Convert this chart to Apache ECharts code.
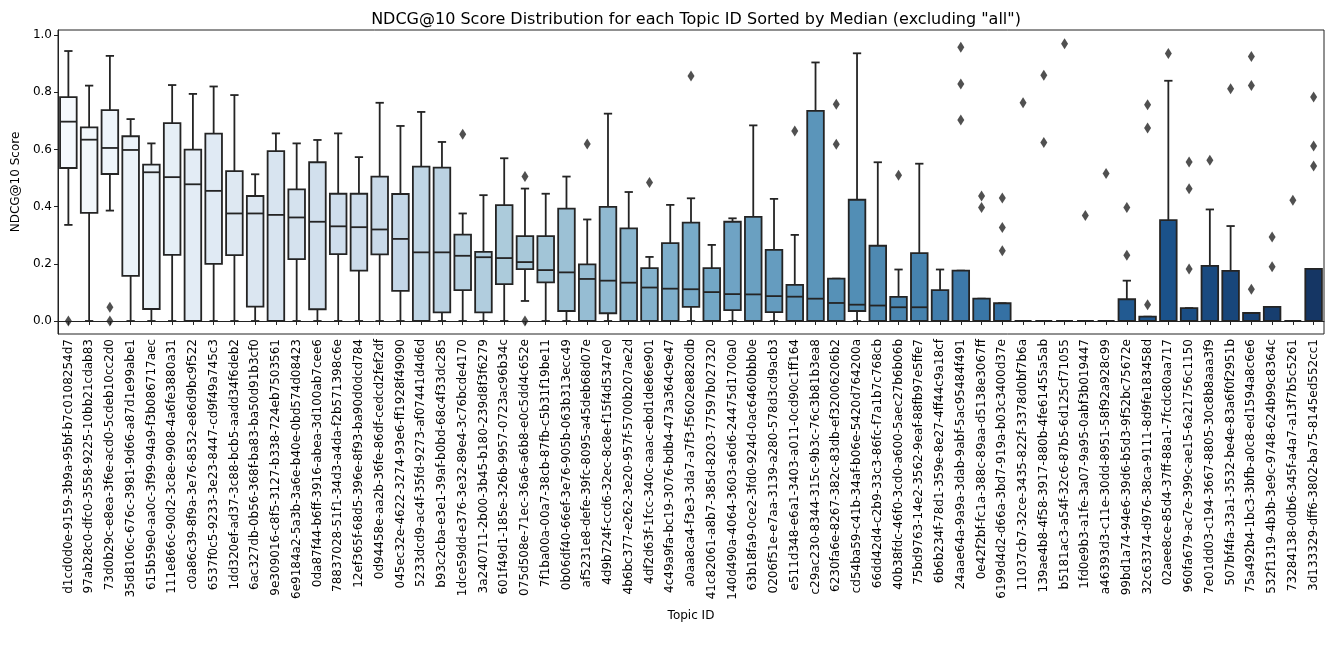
<!DOCTYPE html>
<html>
<head>
<meta charset="utf-8">
<script src="https://cdn.jsdelivr.net/npm/echarts@6/dist/echarts.min.js"></script>
<style>
html,body{margin:0;padding:0;background:#fff;}
#chart{width:1325px;height:654px;}
</style>
</head>
<body>
<div id="chart"></div>
<script>
const categories = [
"d1cd0d0e-9159-3b9a-95bf-b7c0108254d7","97ab28c0-dfc0-3558-9225-10bb21cdab83","73d0b29c-e8ea-3f6e-acd0-5cdeb10cc2d0",
"35d8106c-676c-3981-9d66-a87d1e99abe1","615b59e0-aa0c-3f99-94a9-f3b086717aec","111e866c-90d2-3c8e-9908-4a6fe3880a31",
"c0a86c39-8f9a-3e76-8532-e86d9bc9f522","6537f0c5-9233-3e23-8447-cd9f49a745c3","1dd320ef-ad37-3c88-bcb5-aadd34f6deb2",
"6ac327db-0b56-368f-ba83-ba50d91b3cf0","9e309016-c8f5-3127-b338-724eb7503561","6e9184a2-5a3b-3a6e-b40e-0bd574d08423",
"0da87f44-b6ff-3916-abea-3d100ab7cee6","78837028-51f1-34d3-a4da-f2b571398c6e","12ef365f-68d5-396e-8f93-ba90d0dcd784",
"0d94458e-aa2b-36fe-86df-cedcd2fef2df","045ec32e-4622-3274-93e6-ff1928f49090","5233dcd9-ac4f-35fd-9273-af07441d4d6d",
"b93c2cba-e3e1-39af-b0bd-68c4f33dc285","1dce59dd-e376-3e32-89e4-3c76bcde4170","3a240711-2b00-3b45-b180-239d8f3f6279",
"601f49d1-185e-326b-9957-0723ac96b34c","075d508e-71ec-36a6-a6b8-e0c5dd4c652e","7f1ba00a-00a7-38cb-87fb-c5b31f19be11",
"0b06df40-66ef-3e76-905b-063b313ecc49","af5231e8-defe-39fc-8095-a45deb68d07e","4d9b724f-ccd6-32ec-8c8e-f15f4d5347e0",
"4b6bc377-e262-3e20-957f-5700b207ae2d","4df2d63f-1fcc-340c-aaac-ebd1de86e901","4c49a9fa-bc19-3076-bdb4-473a364c9e47",
"a0aa8ca4-f3e3-3da7-a7f3-f5602e8820db","41c82061-a8b7-385d-8203-77597b027320","140d490a-4064-3603-a6d6-24475d1700a0",
"63b18fa9-0ce2-3fd0-924d-0ac6460bbb0e","0206f51e-e7aa-3139-a280-578d3cd9acb3","e511d348-e6a1-3403-a011-0cd90c1ff164",
"c29ac230-8344-315c-9b3c-76c3b81b3ea8","6230fa6e-8267-382c-83db-ef32006206b2","cd54ba59-c41b-34af-b06e-5420d764200a",
"66dd42d4-c2b9-33c3-86fc-f7a1b7c768cb","40b38fdc-46f0-3cd0-a600-5aec27b6b06b","75bd9763-14e2-3562-9eaf-88fb97e5ffe7",
"6b6b234f-78d1-359e-8e27-4ff44c9a18cf","24aae64a-9a9a-3dab-9abf-5ac95484f491","0e42f2bf-fc1a-388c-89aa-d5138e3067ff",
"6199d4d2-d66a-3bd7-919a-b03c3400d37e","11037cb7-32ce-3435-822f-3378d0bf7b6a","139ae4b8-4f58-3917-880b-4fe61455a5ab",
"b5181ac3-a54f-32c6-87b5-6d125cf71055","1fd0e9b3-a1fe-3a07-9a95-0abf3b019447","a46393d3-c11e-30dd-8951-58f92a928c99",
"99bd1a74-94e6-39d6-b5d3-9f52bc75672e","32c63374-d976-38ca-9111-8d9fe183458d","02aee8ce-85d4-37ff-88a1-7fcdc80aa717",
"960fa679-ac7e-399c-ae15-6a21756c1150","7e01dd03-c194-3667-8805-30c8b8aaa3f9","507bf4fa-33a1-3532-be4e-83a6f0f2951b",
"75a492b4-1bc3-3bfb-a0c8-ed1594a8c6e6","532f1319-4b3b-3e9c-9748-624b99c8364c","73284138-0db6-345f-a4a7-a13f7b5c5261",
"3d133329-dff6-3802-ba75-8145ed552cc1"
];

const whiskerLow = [0.336,0,0.386,0,0,0,0,0,0,0, 0,0,0,0,0,0,0,0,0,0, 0,0,0.07,0,0,0,0,0,0,0, 0,0,0,0,0,0,0,0,0,0, 0,0,0,0,0,0,0,0,0,0, 0,0,0,0,0,0,0,0,0,0, 0];
const q1 = [0.535,0.378,0.514,0.158,0.042,0.231,0,0.2,0.23,0.05, 0,0.216,0.041,0.234,0.176,0.233,0.105,0,0.03,0.108, 0.03,0.129,0.181,0.135,0.035,0,0.027,0,0,0, 0.049,0,0.038,0,0.031,0,0,0,0.035,0, 0,0,0,0,0,0,0,0,0,0, 0,0,0,0,0,0,0,0,0,0, 0];
const median = [0.697,0.634,0.605,0.598,0.52,0.503,0.478,0.455,0.376,0.376, 0.371,0.362,0.347,0.331,0.328,0.32,0.287,0.24,0.24,0.228, 0.223,0.22,0.206,0.178,0.17,0.147,0.141,0.134,0.117,0.113, 0.111,0.101,0.094,0.093,0.087,0.085,0.078,0.063,0.057,0.054, 0.048,0.048,0,0,0,0,0,0,0,0, 0,0,0,0,0,0,0,0,0,0, 0];
const q3 = [0.783,0.677,0.737,0.646,0.547,0.692,0.599,0.655,0.524,0.437, 0.594,0.46,0.555,0.445,0.445,0.505,0.444,0.54,0.536,0.302, 0.242,0.405,0.297,0.297,0.393,0.198,0.399,0.324,0.185,0.272, 0.344,0.185,0.347,0.364,0.249,0.126,0.735,0.148,0.424,0.263, 0.084,0.237,0.108,0.176,0.078,0.062,0,0,0,0, 0,0.076,0.015,0.353,0.045,0.193,0.175,0.028,0.049,0, 0.182];
const whiskerHigh = [0.944,0.823,0.927,0.706,0.621,0.825,0.794,0.82,0.79,0.513, 0.656,0.621,0.633,0.656,0.573,0.763,0.682,0.731,0.626,0.376, 0.44,0.569,0.463,0.445,0.505,0.355,0.725,0.451,0.224,0.406, 0.429,0.266,0.359,0.684,0.427,0.301,0.904,0.148,0.936,0.555, 0.18,0.55,0.18,0.176,0.078,0.062,0,0,0,0, 0,0.141,0.015,0.84,0.045,0.39,0.332,0.028,0.049,0, 0.182];

// outliers: topic index and value
const outlierTopic = [0, 2,2, 19, 22,22, 25, 28, 30, 35, 37,37, 40, 43,43,43, 44,44, 45,45,45, 46, 47,47, 48, 49, 50, 51,51, 52,52,52, 53, 54,54,54, 55, 56, 57,57,57, 58,58, 59, 60,60,60];
const outlierValue = [0.0, 0.048,0.0, 0.653, 0.505,0.0, 0.619, 0.484, 0.857, 0.664, 0.758,0.618, 0.51, 0.957,0.829,0.703, 0.437,0.397, 0.43,0.327,0.246, 0.763, 0.859,0.624, 0.969, 0.369, 0.516, 0.397,0.23, 0.756,0.675,0.057, 0.935, 0.556,0.462,0.182, 0.562, 0.812, 0.925,0.823,0.111, 0.294,0.19, 0.422, 0.783,0.612,0.542];

const yTicks = [0, 0.2, 0.4, 0.6, 0.8, 1.0];

// ---- seaborn-like "Blues" palette, desaturated 0.75 ----
const bluesStops = ["#f7fbff","#deebf7","#c6dbef","#9ecae1","#6baed6","#4292c6","#2171b5","#08519c","#08306b"];
function hexToRgb(h){return [parseInt(h.substr(1,2),16)/255,parseInt(h.substr(3,2),16)/255,parseInt(h.substr(5,2),16)/255];}
function blues(t){
  const n = bluesStops.length-1; const p = t*n; let i = Math.floor(p); if(i>=n) i=n-1; const f = p-i;
  const a = hexToRgb(bluesStops[i]), b = hexToRgb(bluesStops[i+1]);
  return [a[0]+(b[0]-a[0])*f, a[1]+(b[1]-a[1])*f, a[2]+(b[2]-a[2])*f];
}
function rgb2hls(r,g,b){
  const mx=Math.max(r,g,b), mn=Math.min(r,g,b); const l=(mx+mn)/2; let h=0,s=0;
  if(mx!==mn){const d=mx-mn; s = l<=0.5? d/(mx+mn) : d/(2-mx-mn);
    if(mx===r) h=((g-b)/d)%6; else if(mx===g) h=(b-r)/d+2; else h=(r-g)/d+4; h/=6; if(h<0)h+=1;}
  return [h,l,s];
}
function hue2(m1,m2,h){h=((h%1)+1)%1; if(h<1/6) return m1+(m2-m1)*h*6; if(h<0.5) return m2; if(h<2/3) return m1+(m2-m1)*(2/3-h)*6; return m1;}
function hls2rgb(h,l,s){ if(s===0) return [l,l,l]; const m2 = l<=0.5? l*(1+s) : l+s-l*s; const m1=2*l-m2;
  return [hue2(m1,m2,h+1/3),hue2(m1,m2,h),hue2(m1,m2,h-1/3)];}
function toHex(c){return '#'+c.map(v=>Math.round(Math.max(0,Math.min(1,v))*255).toString(16).padStart(2,'0')).join('');}
const N = categories.length;
const palette = categories.map((_,i)=>{
  const c = blues((i+1)/(N+1)); const hls = rgb2hls(c[0],c[1],c[2]);
  return toHex(hls2rgb(hls[0],hls[1],hls[2]*0.75));
});
const edge = '#242424';
const LW = 1.8;

const boxData = categories.map((_,i)=>[i, whiskerLow[i], q1[i], median[i], q3[i], whiskerHigh[i]]);
const outlierData = outlierTopic.map((t,k)=>[t, outlierValue[k]]);

function renderBox(params, api){
  const i = api.value(0);
  const lo = api.coord([i, api.value(1)]);
  const b1 = api.coord([i, api.value(2)]);
  const md = api.coord([i, api.value(3)]);
  const b3 = api.coord([i, api.value(4)]);
  const hi = api.coord([i, api.value(5)]);
  const band = api.size([1,0])[0];
  const hw = band*0.4, cw = band*0.2;
  const x = lo[0];
  const ls = {stroke: edge, lineWidth: LW, fill: null};
  return {type:'group', children:[
    {type:'line', shape:{x1:x,y1:b3[1],x2:x,y2:hi[1]}, style:ls},
    {type:'line', shape:{x1:x,y1:b1[1],x2:x,y2:lo[1]}, style:ls},
    {type:'line', shape:{x1:x-cw,y1:hi[1],x2:x+cw,y2:hi[1]}, style:ls},
    {type:'line', shape:{x1:x-cw,y1:lo[1],x2:x+cw,y2:lo[1]}, style:ls},
    {type:'polygon', shape:{points:[[x-hw,b3[1]],[x+hw,b3[1]],[x+hw,b1[1]],[x-hw,b1[1]]]},
      style:{fill: palette[i], stroke: edge, lineWidth: LW}},
    {type:'line', shape:{x1:x-hw,y1:md[1],x2:x+hw,y2:md[1]}, style:ls}
  ]};
}

const chart = echarts.init(document.getElementById('chart'), null, {renderer:'canvas'});
const font = 'DejaVu Sans';
chart.setOption({
  animation:false,
  backgroundColor:'#fff',
  textStyle:{fontFamily:font},
  title:{text:'NDCG@10 Score Distribution for each Topic ID Sorted by Median (excluding "all")',
    left:691, top:7, textAlign:'center',
    textStyle:{fontFamily:font, fontSize:16, fontWeight:'normal', color:'#000'}},
  grid:{left:58, top:30, right:1, bottom:320, show:true, borderColor:'#222', borderWidth:1, backgroundColor:'transparent'},
  xAxis:{type:'category', data:categories, boundaryGap:true,
    name:'Topic ID', nameLocation:'middle', nameGap:276,
    nameTextStyle:{fontFamily:font, fontSize:12, color:'#000'},
    axisLine:{show:true, lineStyle:{color:'#222', width:1}},
    axisTick:{show:true, alignWithLabel:true, length:4, lineStyle:{color:'#222', width:1}},
    axisLabel:{interval:0, rotate:90, fontFamily:font, fontSize:12, color:'#000', margin:5},
    splitLine:{show:false}},
  yAxis:{type:'value', min:-0.0455, max:1.0175,
    name:'NDCG@10 Score', nameLocation:'middle', nameGap:34, nameRotate:90,
    nameTextStyle:{fontFamily:font, fontSize:12, color:'#000'},
    axisLine:{show:true, lineStyle:{color:'#222', width:1}},
    axisTick:{show:true, length:4, customValues:yTicks, lineStyle:{color:'#222', width:1}},
    axisLabel:{customValues:yTicks, fontFamily:font, fontSize:12, color:'#000', margin:6,
      formatter:(v)=>Number(v).toFixed(1)},
    splitLine:{show:false}},
  series:[
    {type:'custom', name:'box', renderItem:renderBox, data:boxData, encode:{x:0, y:[1,2,3,4,5]}, z:2},
    {type:'scatter', name:'outliers', data:outlierData, symbol:'diamond', symbolSize:[7,11],
      itemStyle:{color:edge}, z:3}
  ]
});
</script>
</body>
</html>
